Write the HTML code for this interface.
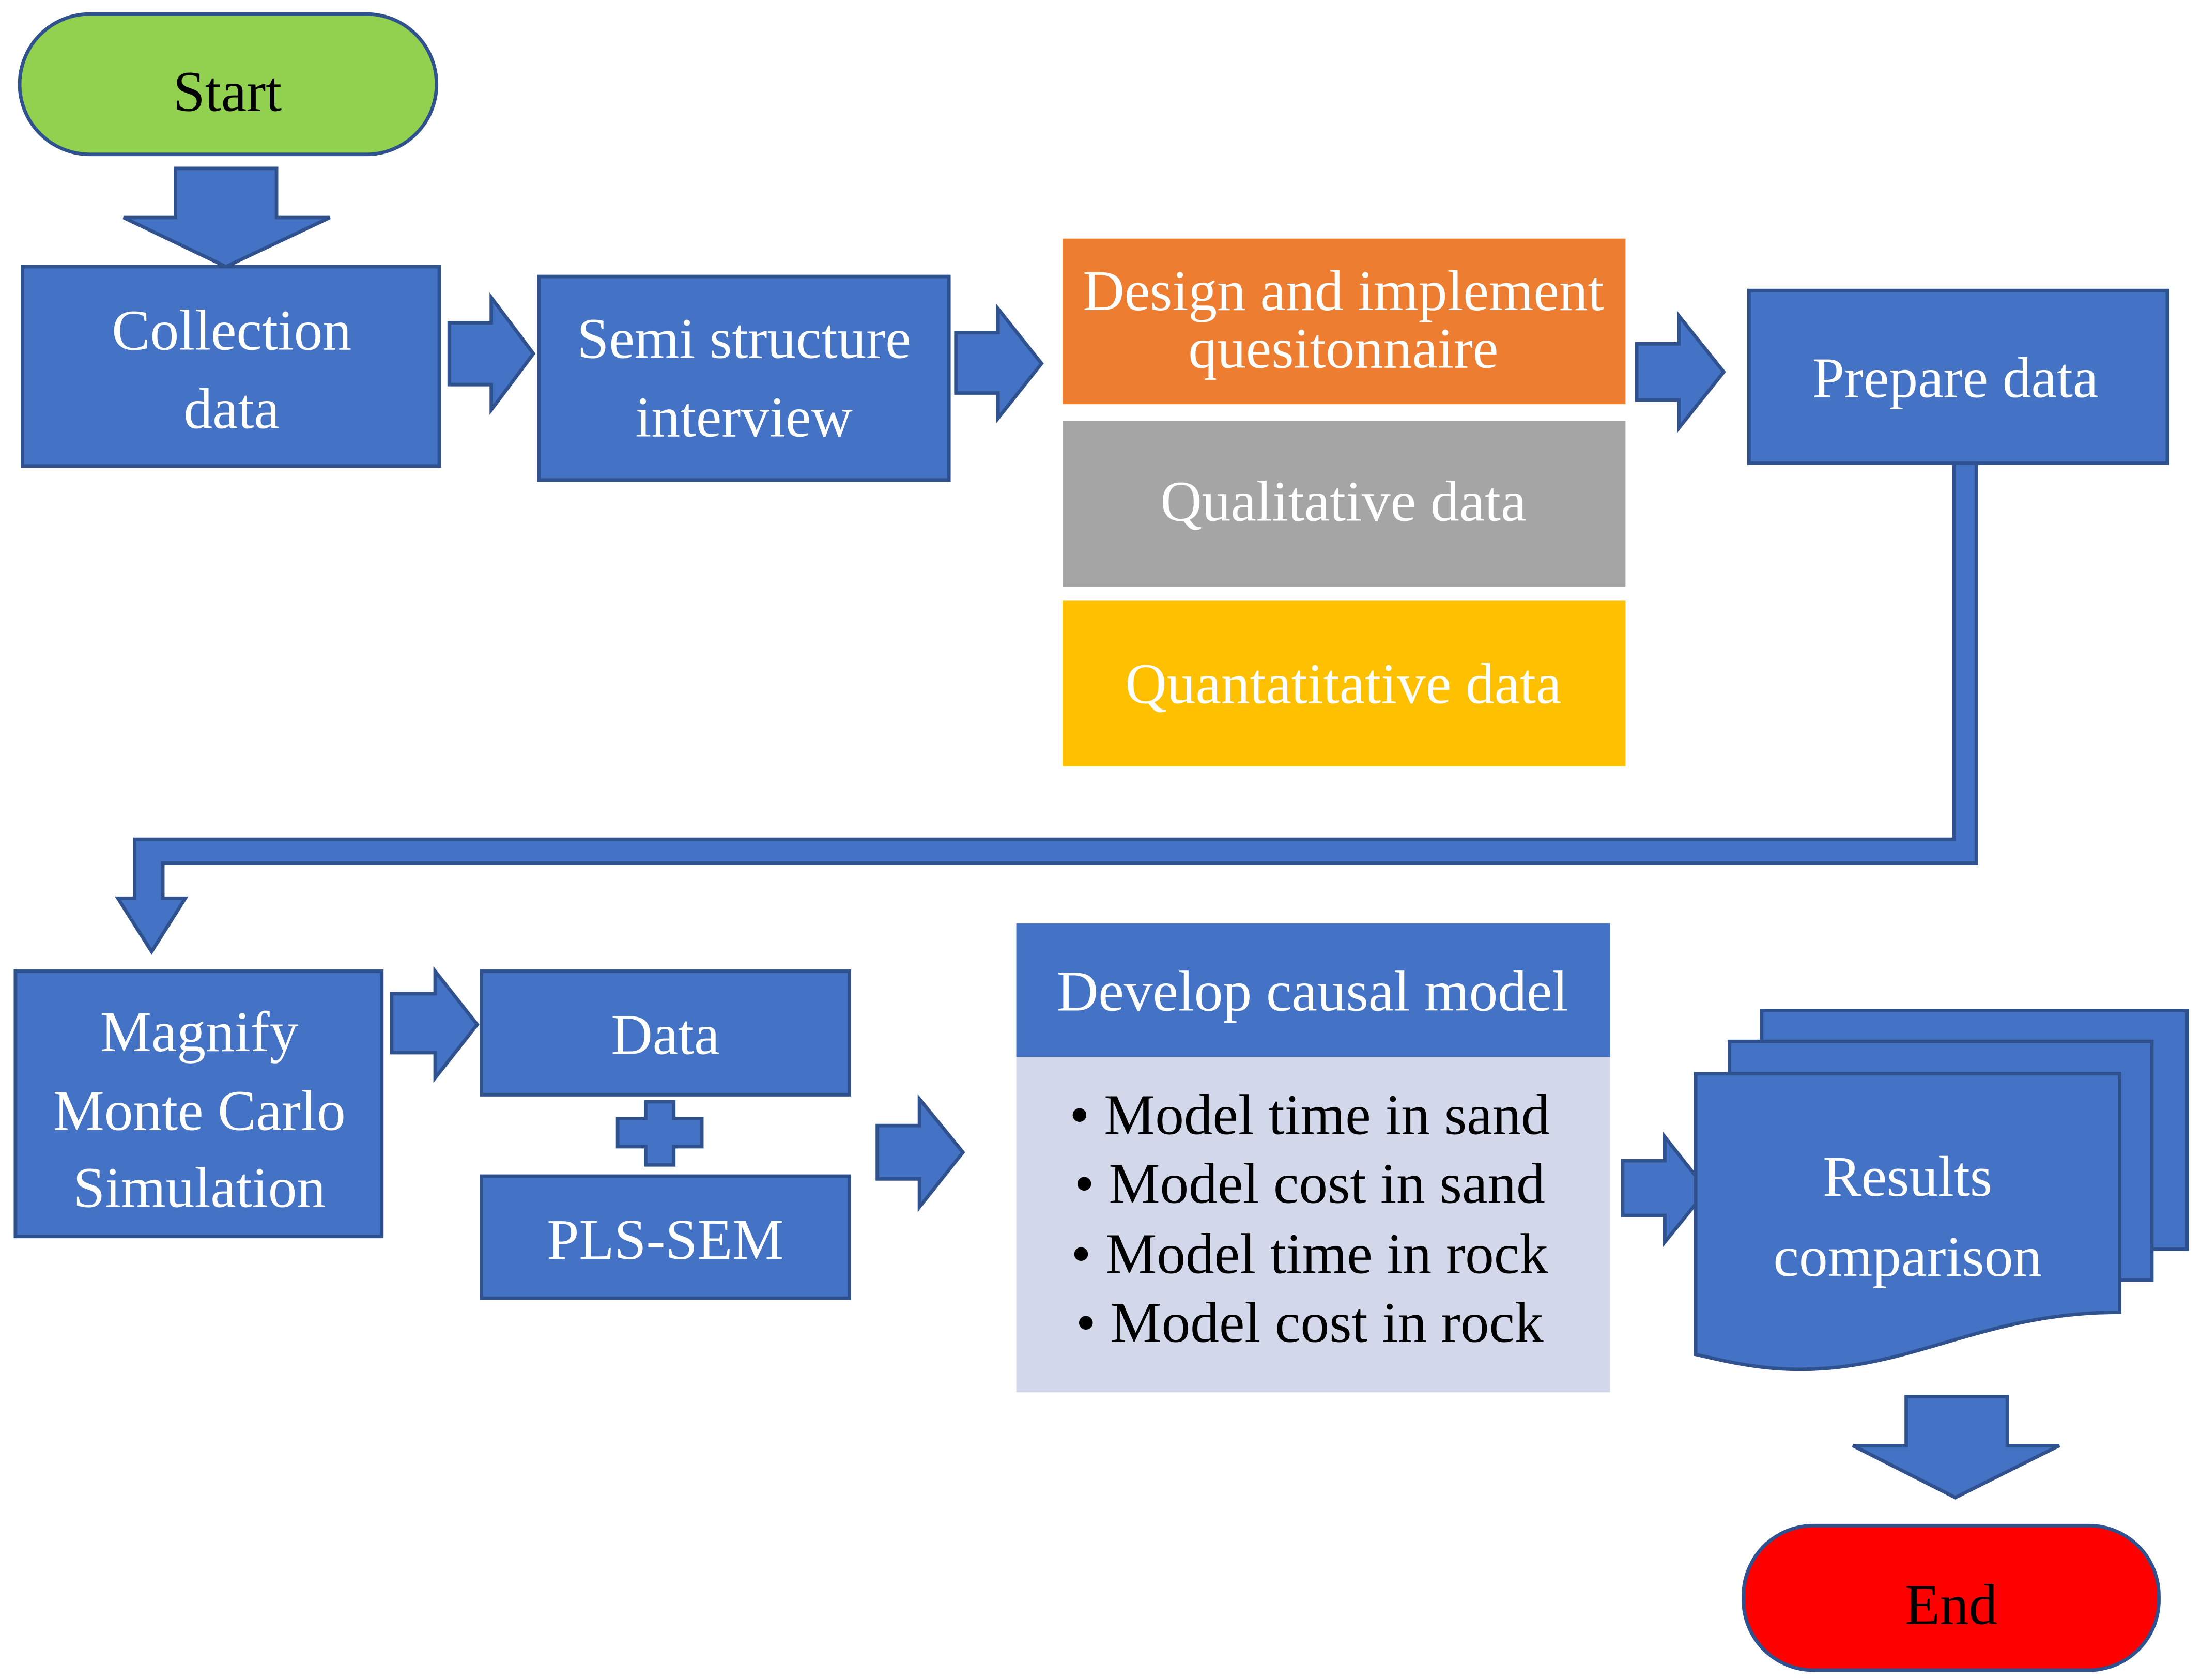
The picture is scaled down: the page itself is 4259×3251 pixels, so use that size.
<!DOCTYPE html>
<html><head><meta charset="utf-8"><style>html,body{margin:0;padding:0;background:#fff}svg{display:block}</style></head>
<body>
<svg width="4259" height="3251" viewBox="0 0 1568 1197" xmlns="http://www.w3.org/2000/svg" preserveAspectRatio="none">
<g font-family="Liberation Serif, serif" font-size="41" text-anchor="middle">
<g stroke="#2F528F" stroke-width="2.5">
<rect x="14" y="10" width="297" height="100" rx="50" fill="#92D050"/>
<polygon points="125,120 197,120 197,155 235,155 161,190 88,155 125,155" fill="#4472C4"/>
<rect x="16" y="190" width="297" height="142" fill="#4472C4"/>
<polygon points="320,230 350,230 350,212 380,252 350,292 350,274 320,274" fill="#4472C4"/>
<rect x="384" y="197" width="292" height="145" fill="#4472C4"/>
<polygon points="681,237 711,237 711,220 742,259 711,298 711,280 681,280" fill="#4472C4"/>
<polygon points="1166,245 1196,245 1196,225 1228,265 1196,305 1196,285 1166,285" fill="#4472C4"/>
<rect x="1246" y="207" width="298" height="123" fill="#4472C4"/>
<polygon points="1392,330 1408,330 1408,615 116,615 116,640 132,640 108,678 84,640 96,640 96,598 1392,598" fill="#4472C4"/>
<rect x="11" y="692" width="261" height="189" fill="#4472C4"/>
<polygon points="279,708 310,708 310,692 340,730 310,768 310,750 279,750" fill="#4472C4"/>
<rect x="343" y="692" width="262" height="88" fill="#4472C4"/>
<polygon points="460,785 480,785 480,797 500,797 500,817 480,817 480,830 460,830 460,817 440,817 440,797 460,797" fill="#4472C4"/>
<rect x="343" y="838" width="262" height="87" fill="#4472C4"/>
<polygon points="625,802 655,802 655,783 686,821 655,860 655,840 625,840" fill="#4472C4"/>
<polygon points="1156,827 1186,827 1186,810 1216,848 1186,885 1186,866 1156,866" fill="#4472C4"/>
<rect x="1255" y="720" width="303" height="170" fill="#4472C4"/>
<rect x="1232" y="742" width="301" height="170" fill="#4472C4"/>
<path d="M1208,765 L1510,765 L1510,935 C1420,935 1370,970 1300,975 C1260,978 1230,970 1208,965 Z" fill="#4472C4"/>
<polygon points="1358,995 1430,995 1430,1030 1467,1030 1393,1067 1320,1030 1358,1030" fill="#4472C4"/>
<rect x="1242" y="1087" width="296" height="103" rx="50" fill="#FF0000"/>
</g>
<rect x="757" y="170" width="401" height="118" fill="#ED7D31"/>
<rect x="757" y="300" width="401" height="118" fill="#A5A5A5"/>
<rect x="757" y="428" width="401" height="118" fill="#FFC000"/>
<rect x="724" y="658" width="423" height="95" fill="#4472C4"/>
<rect x="724" y="753" width="423" height="239" fill="#D2D8EA"/>
<text x="162" y="79" fill="#000">Start</text>
<g fill="#fff">
<text x="165" y="249">Collection</text><text x="165" y="305">data</text>
<text x="530" y="255">Semi structure</text><text x="530" y="311">interview</text>
<text x="957" y="221">Design and implement</text><text x="957" y="262">quesitonnaire</text>
<text x="957" y="371">Qualitative data</text>
<text x="957" y="501">Quantatitative data</text>
<text x="1393" y="283">Prepare data</text>
<text x="142" y="749">Magnify</text><text x="142" y="805">Monte Carlo</text><text x="142" y="860">Simulation</text>
<text x="474" y="751">Data</text>
<text x="474" y="897">PLS-SEM</text>
<text x="935" y="720">Develop causal model</text>
<text x="1359" y="852">Results</text><text x="1359" y="909">comparison</text>
</g>
<g fill="#000">
<text x="933" y="808">•  Model time in sand</text>
<text x="933" y="857">•  Model cost in sand</text>
<text x="933" y="907">•  Model time in rock</text>
<text x="933" y="956">•  Model cost in rock</text>
<text x="1390" y="1157">End</text>
</g>
</g>
</svg>
</body></html>
